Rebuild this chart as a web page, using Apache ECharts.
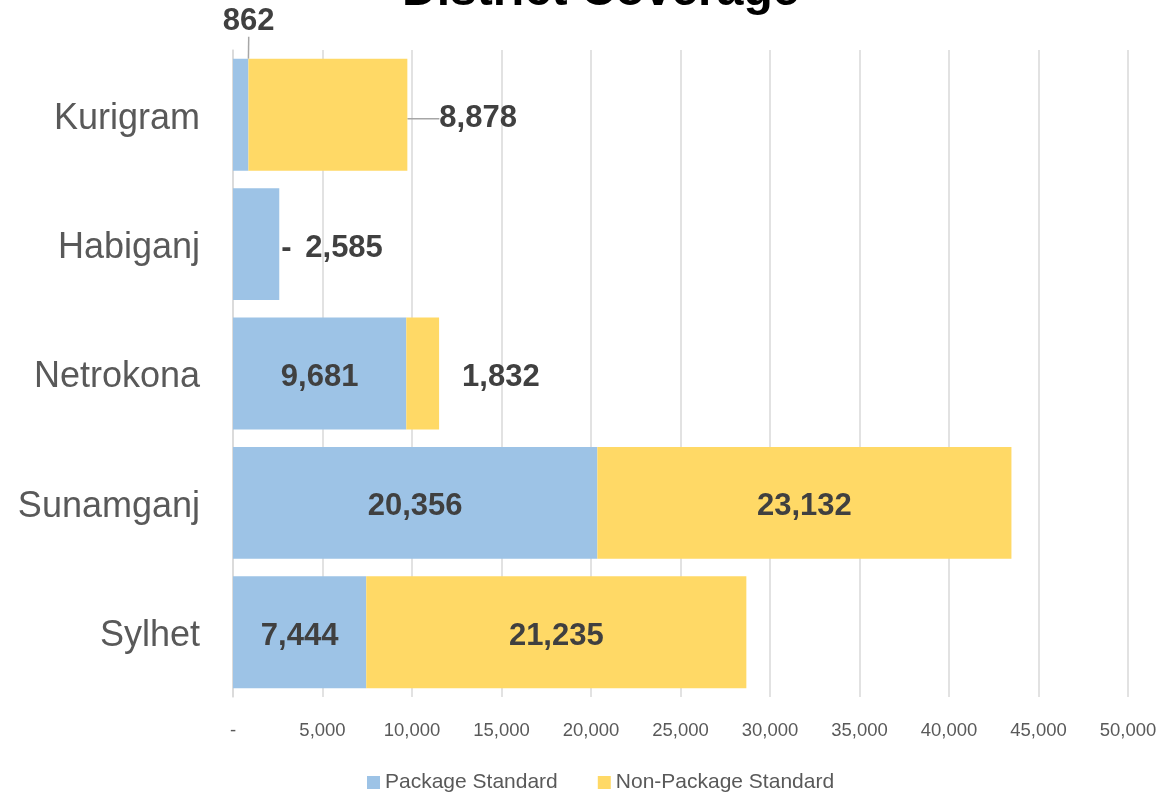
<!DOCTYPE html>
<html>
<head>
<meta charset="utf-8">
<script src="https://cdn.jsdelivr.net/npm/echarts@6/dist/echarts.min.js"></script>
<style>html,body{margin:0;padding:0;background:#fff}#c{width:1167px;height:796px}</style>
</head>
<body>
<div id="c"></div>
<script>
const categories = ['Kurigram', 'Habiganj', 'Netrokona', 'Sunamganj', 'Sylhet'];
const packageStd = [862, 2585, 9681, 20356, 7444];
const nonPackageStd = [8878, 0, 1832, 23132, 21235];
const xTicks = [0, 5000, 10000, 15000, 20000, 25000, 30000, 35000, 40000, 45000, 50000];

const fmt = v => v === 0 ? '-' : v.toLocaleString('en-US');
const labelBase = {show: true, fontFamily: 'Liberation Sans, Arial', fontWeight: 'bold', fontSize: 31, color: '#404040', formatter: p => fmt(p.value)};
const leader = {show: true, lineStyle: {color: '#a6a6a6', width: 1.5}};
const noLeader = {show: false};

// per-item label placement
const pkgLabels = [
  {position: 'top', distance: 2},
  {position: 'right', distance: 26},
  {position: 'inside'},
  {position: 'inside'},
  {position: 'inside'}
];
const nonLabels = [
  {position: 'right', distance: 32},
  {position: 'right', distance: 2},
  {position: 'right', distance: 23},
  {position: 'inside'},
  {position: 'inside'}
];

const chart = echarts.init(document.getElementById('c'));
chart.setOption({
  animation: false,
  title: {text: 'District Coverage', left: 397, top: -37, textStyle: {fontFamily: 'Liberation Sans, Arial', fontWeight: 'bold', fontSize: 48, color: '#000'}},
  grid: {left: 233, right: 39, top: 50, bottom: 99},
  legend: {top: 767, left: 362, itemWidth: 13, itemHeight: 13, itemGap: 40, icon: 'rect',
    textStyle: {fontFamily: 'Liberation Sans, Arial', fontSize: 21, color: '#595959'},
    data: ['Package Standard', 'Non-Package Standard']},
  xAxis: {type: 'value', min: 0, max: 50000, interval: 5000,
    axisLine: {show: false}, axisTick: {show: false},
    splitLine: {lineStyle: {color: '#d9d9d9', width: 1.5}},
    axisLabel: {margin: 24, fontFamily: 'Liberation Sans, Arial', fontSize: 18.5, color: '#595959', formatter: v => fmt(v)}},
  yAxis: {type: 'category', inverse: true, data: categories,
    axisLine: {show: true, lineStyle: {color: '#d9d9d9', width: 1.5}}, axisTick: {show: false},
    axisLabel: {margin: 33, formatter: v => '{a|' + v + '}',
      rich: {a: {padding: [8, 0, 0, 0], fontFamily: 'Liberation Sans, Arial', fontSize: 36, color: '#595959'}}}},
  series: [
    {name: 'Package Standard', type: 'bar', stack: 's', barCategoryGap: '13.5%',
      itemStyle: {color: '#9DC3E6'},
      label: labelBase,
      labelLayout: p => p.dataIndex === 0 ? {dy: -20, dx: 8} : {dy: 4},
      data: packageStd.map((v, i) => ({value: v, label: pkgLabels[i], labelLine: i === 0 ? leader : noLeader}))},
    {name: 'Non-Package Standard', type: 'bar', stack: 's',
      itemStyle: {color: '#FFD966'},
      label: labelBase,
      labelLayout: p => ({dy: 4}),
      data: nonPackageStd.map((v, i) => ({value: v, label: nonLabels[i], labelLine: i === 0 ? leader : noLeader}))}
  ]
});
</script>
</body>
</html>
